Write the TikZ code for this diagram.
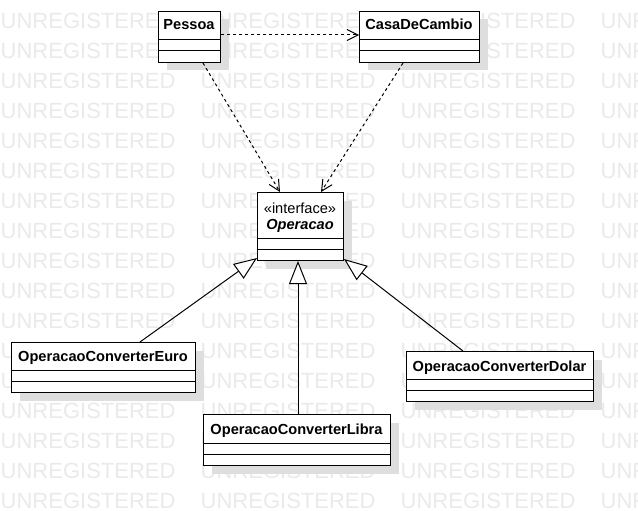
\documentclass[tikz,border=0pt]{standalone}
\usepackage{fontspec}
\setmainfont{Liberation Sans}
\usetikzlibrary{arrows.meta,shadows}
\definecolor{wmgray}{RGB}{234,234,234}
\definecolor{shadowgray}{RGB}{222,222,222}
\tikzset{
  wmtext/.style={anchor=base west, inner sep=0pt, text=wmgray, font=\fontsize{22}{26}\selectfont},
  classbox/.style={draw=black, fill=white, line width=1pt, anchor=north west, inner sep=0pt,
     drop shadow={shadow xshift=8pt, shadow yshift=-8pt, fill=shadowgray, opacity=1}},
  classname/.style={anchor=base, inner sep=0pt, font=\fontsize{14.6}{17}\selectfont\bfseries},
  stereo/.style={anchor=base, inner sep=0pt, font=\fontsize{14.6}{17}\selectfont},
  compline/.style={draw=black, line width=1pt},
  dep/.style={draw=black, line width=1pt, dash pattern=on 3pt off 3pt, -{Straight Barb[length=11pt,width=11pt]}},
  gen/.style={draw=black, line width=1pt, -{Triangle[length=23pt,width=18pt,fill=white]}},
}
% name, x1, y1, x2, y2, divider1, divider2
\newcommand\umlclassbox[7]{%
  \node[classbox, minimum width={#4-#2}, minimum height={#5-#3}] (#1) at (#2,#3) {};
  \draw[compline] ([yshift={-(#6-#3)}]#1.north west) -- ([yshift={-(#6-#3)}]#1.north east);
  \draw[compline] ([yshift={-(#7-#3)}]#1.north west) -- ([yshift={-(#7-#3)}]#1.north east);
}
\begin{document}
\begin{tikzpicture}[x=1pt,y=-1pt]
\useasboundingbox (0,0) rectangle (638,511);
\fill[white] (0,0) rectangle (638,511);
% watermark
\foreach \j in {0,...,16}{
  \foreach \k in {0,...,3}{
    \node[wmtext] (wm-\j-\k) at ({200*\k+0.5},{28.3+30*\j}) {UNREGISTERED};
  }
}
% classes
\umlclassbox{pessoa}{158}{11}{220}{62}{40}{51}
\node[classname] (pessoa-t) at (189,30) {Pessoa};
\umlclassbox{casa}{359}{11}{479}{62}{40}{51}
\node[classname] (casa-t) at (419,30) {CasaDeCambio};
\umlclassbox{oper}{257}{192}{343}{260}{238}{249}
\node[stereo] (oper-s) at (300,213) {«interface»};
\node[classname, font=\fontsize{14.6}{17}\selectfont\bfseries\itshape] (oper-t) at (300,229.5) {Operacao};
\umlclassbox{euro}{11}{342}{195}{392}{370}{381}
\node[classname] (euro-t) at (103,361) {OperacaoConverterEuro};
\umlclassbox{libra}{203}{414}{390}{465}{443}{454}
\node[classname] (libra-t) at (296.5,434) {OperacaoConverterLibra};
\umlclassbox{dolar}{406}{351}{593}{401}{379}{390}
\node[classname] (dolar-t) at (499.5,371) {OperacaoConverterDolar};
% dependencies
\draw[dep] ([yshift=-24pt]pessoa.north east) -- ([yshift=-24pt]casa.north west);
\draw[dep] ([xshift=45pt]pessoa.south west) -- ([xshift=23pt]oper.north west);
\draw[dep] ([xshift=44pt]casa.south west) -- ([xshift=64pt]oper.north west);
% generalizations
\coordinate (libra-top) at ([xshift=95pt]libra.north west);
\draw[gen] ([xshift=129pt]euro.north west) -- ([yshift=3pt]oper.south west);
\draw[gen] (libra-top) -- (libra-top |- oper.south);
\draw[gen] ([xshift=57pt]dolar.north west) -- ([yshift=2pt]oper.south east);
\end{tikzpicture}
\end{document}
